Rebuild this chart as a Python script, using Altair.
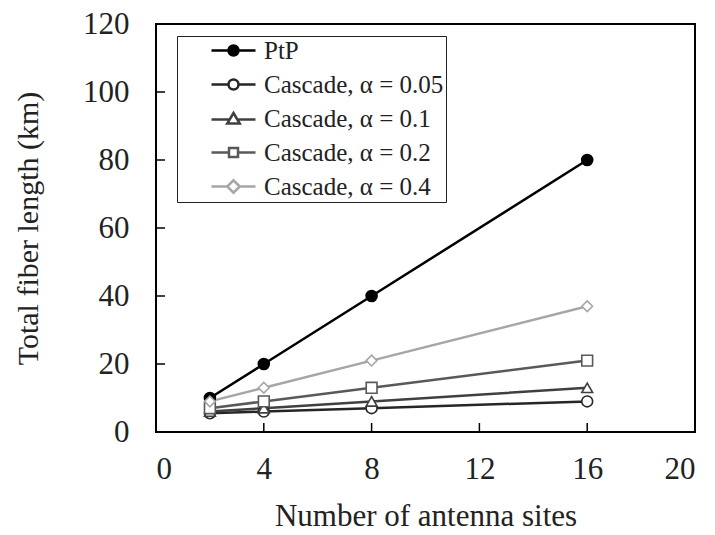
import altair as alt
import pandas as pd

# ---- data ----
sites = [2, 4, 8, 16]
ptp = [10, 20, 40, 80]
cascade_005 = [5.5, 6, 7, 9]
cascade_01 = [6, 7, 9, 13]
cascade_02 = [7, 9, 13, 21]
cascade_04 = [9, 13, 21, 37]

series_names = ["PtP", "Cascade, α = 0.05", "Cascade, α = 0.1",
                "Cascade, α = 0.2", "Cascade, α = 0.4"]
series_values = [ptp, cascade_005, cascade_01, cascade_02, cascade_04]

x_ticks = [4, 8, 12, 16]
y_ticks = [20, 40, 60, 80, 100]

# ---- styles ----
colors = ["#000000", "#262626", "#404040", "#595959", "#a6a6a6"]
fills = ["#000000", "#ffffff", "#ffffff", "#ffffff", "#ffffff"]
shapes = ["circle", "circle", "triangle-up", "square", "diamond"]
sizes = [120, 115, 135, 120, 175]

stub = "M-4.4,0L-1,0M1,0L4.4,0"
legend_paths = [
    stub + "M-1,0A1,1 0 1,0 1,0A1,1 0 1,0 -1,0Z",
    stub + "M-1,0A1,1 0 1,0 1,0A1,1 0 1,0 -1,0Z",
    "M-4.4,0.2L-0.9,0.2M0.9,0.2L4.4,0.2M0,-1.1L1.25,1L-1.25,1Z",
    "M-4.4,0L-0.9,0M0.9,0L4.4,0M-0.9,-0.9L0.9,-0.9L0.9,0.9L-0.9,0.9Z",
    "M-4.4,0L-1.25,0M1.25,0L4.4,0M-1.25,0L0,-1.25L1.25,0L0,1.25Z",
]

rows = []
for order, (name, vals) in enumerate(zip(series_names, series_values)):
    for x, v in zip(sites, vals):
        rows.append({"sites": x, "length": v, "series": name, "order": order})
df = pd.DataFrame(rows)

FONT = "Liberation Serif"
TXT = "#222222"
W, H = 539, 408

xscale = alt.Scale(domain=[0, 20], nice=False, zero=False)
yscale = alt.Scale(domain=[0, 120], nice=False)

x_enc = alt.X("sites:Q", scale=xscale,
              axis=alt.Axis(values=[0, 4, 8, 12, 16, 20], title="Number of antenna sites",
                            grid=False, ticks=False, tickSize=0, domain=False,
                            labelPadding=22, labelFontSize=31, labelFont=FONT,
                            labelColor=TXT, titleFont=FONT, titleFontSize=31,
                            titleFontWeight="normal", titleColor=TXT,
                            titleBaseline="alphabetic", titleY=93))
y_enc = alt.Y("length:Q", scale=yscale,
              axis=alt.Axis(values=[0, 20, 40, 60, 80, 100, 120], title="Total fiber length (km)",
                            grid=False, ticks=False, tickSize=0, domain=False,
                            labelPadding=27, labelFontSize=31, labelFont=FONT,
                            labelColor=TXT, titleFont=FONT, titleFontSize=30,
                            titleFontWeight="normal", titleColor=TXT,
                            titleAngle=270, titleAlign="center", titleBaseline="middle",
                            titleX=-128, titleY=H / 2))

color_scale = alt.Scale(domain=series_names, range=colors)

lines = alt.Chart(df).mark_line(strokeWidth=2.5).encode(
    x=x_enc, y=y_enc,
    color=alt.Color("series:N", scale=color_scale, legend=None),
    order="order:Q",
)

points = alt.Chart(df).mark_point(strokeWidth=1.6, opacity=1).encode(
    x="sites:Q", y="length:Q",
    shape=alt.Shape("series:N", scale=alt.Scale(domain=series_names, range=shapes), legend=None),
    stroke=alt.Stroke("series:N", scale=alt.Scale(domain=series_names, range=colors), legend=None),
    fill=alt.Fill("series:N", scale=alt.Scale(domain=series_names, range=fills), legend=None),
    size=alt.Size("series:N", scale=alt.Scale(domain=series_names, range=sizes), legend=None),
    order="order:Q",
)

legend = alt.Legend(title=None, orient="none", legendX=21, legendY=12,
                    padding=2, strokeColor=TXT, fillColor="#ffffff",
                    symbolSize=100, symbolOffset=42, symbolStrokeWidth=2.5,
                    symbolOpacity=1, labelOffset=18, labelFont=FONT,
                    labelFontSize=25, labelColor=TXT, rowPadding=8,
                    labelLimit=400)

legend_layer = alt.Chart(df).mark_point(opacity=0).encode(
    x="sites:Q", y="length:Q",
    shape=alt.Shape("series:N", scale=alt.Scale(domain=series_names, range=legend_paths), legend=legend),
    stroke=alt.Stroke("series:N", scale=alt.Scale(domain=series_names, range=colors), legend=legend),
    fill=alt.Fill("series:N", scale=alt.Scale(domain=series_names, range=fills), legend=legend),
)

xt = pd.DataFrame({"t": x_ticks})
yt = pd.DataFrame({"t": y_ticks})
x_tick_layer = alt.Chart(xt).mark_rule(color="#000000", strokeWidth=1.5).encode(
    x=alt.X("t:Q", scale=xscale), y=alt.value(H), y2=alt.value(H - 9))
y_tick_layer = alt.Chart(yt).mark_rule(color="#000000", strokeWidth=1.5).encode(
    y=alt.Y("t:Q", scale=yscale), x=alt.value(0), x2=alt.value(9))

chart = alt.layer(lines, points, legend_layer, x_tick_layer, y_tick_layer).resolve_scale(
    shape="independent", stroke="independent", fill="independent"
).properties(
    width=W, height=H,
    autosize=alt.AutoSizeParams(type="none"),
    padding={"left": 156, "top": 24, "right": 20, "bottom": 103},
    background="white",
).configure(font=FONT).configure_axis(labelFont=FONT, titleFont=FONT).configure_legend(
    labelFont=FONT
).configure_view(stroke="#000000", strokeWidth=2)

chart.save("out.html", embed_options={"renderer": "svg", "actions": False})
